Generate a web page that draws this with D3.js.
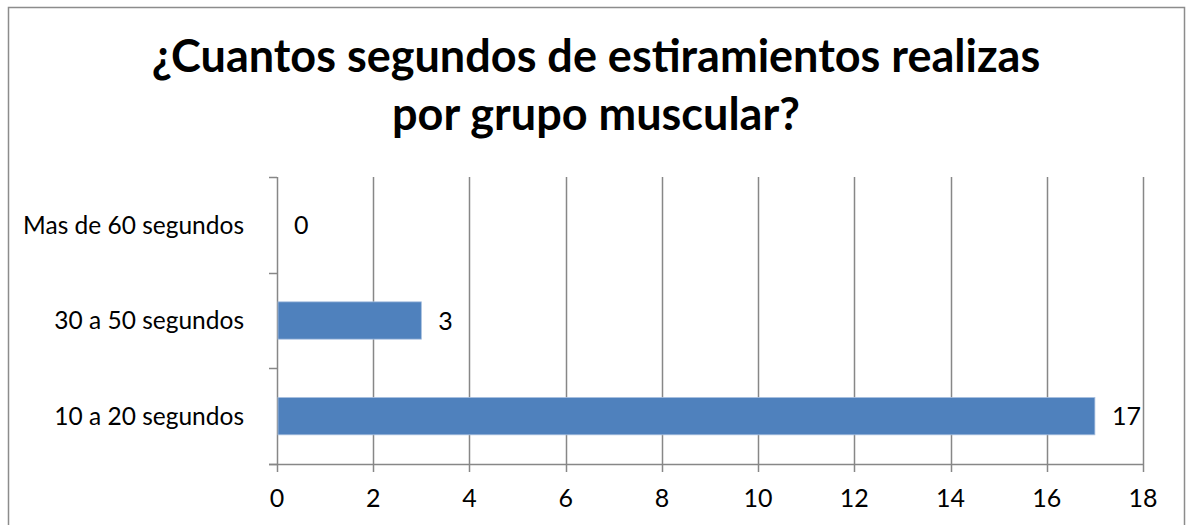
<!DOCTYPE html>
<html lang="en">
<head>
    <meta charset="utf-8">
    <title>estiramientos</title>
    <script type="text/javascript" src="https://cdnjs.cloudflare.com/ajax/libs/d3/7.8.5/d3.min.js"></script>
    <style>
      body { margin: 0; background: #fff; }
      text { font-family: Lato, "Open Sans", sans-serif; fill: #000; }
    </style>
</head>
<body>
    <script type="text/javascript">
    //chart data
    var categories = ["10 a 20 segundos", "30 a 50 segundos", "Mas de 60 segundos"];
    var values = [17, 3, 0];
    var xTicks = [0, 2, 4, 6, 8, 10, 12, 14, 16, 18];
    var titleLines = ["¿Cuantos segundos de estiramientos realizas", "por grupo muscular?"];

    //initialize the dimensions
    var width = 1186,
        height = 525,
        margin = {top: 177, right: 43, bottom: 61, left: 277},
        gridColor = "#878787";

    var svg = d3.select("body")
                .append("svg")
                .attr("width", width)
                .attr("height", height);

    //outer chart border
    svg.append("rect")
       .attr("x", 8.5)
       .attr("y", 7.5)
       .attr("width", 1176)
       .attr("height", 540)
       .attr("fill", "white")
       .attr("stroke", "#8c8c8c")
       .attr("stroke-width", 1.5);

    //title
    svg.append("g")
       .selectAll("text")
       .data(titleLines)
       .enter()
       .append("text")
       .attr("x", 596)
       .attr("y", function(d, i) { return 72 + i * 58; })
       .attr("text-anchor", "middle")
       .attr("font-size", 45)
       .attr("font-weight", "bold")
       .text(function(d) { return d; });

    //scales
    var xScale = d3.scaleLinear()
                   .domain([0, 18])
                   .range([margin.left, width - margin.right]);

    var yScale = d3.scaleBand()
                   .domain(categories)
                   .range([height - margin.bottom, margin.top])
                   .paddingInner(0.61)
                   .paddingOuter(0.305);

    var plotTop = margin.top,
        plotBottom = height - margin.bottom;

    //vertical gridlines
    svg.append("g")
       .selectAll("line")
       .data(xTicks)
       .enter()
       .append("line")
       .attr("x1", function(d) { return Math.round(xScale(d)) + 0.5; })
       .attr("x2", function(d) { return Math.round(xScale(d)) + 0.5; })
       .attr("y1", plotTop)
       .attr("y2", plotBottom + 8)
       .attr("stroke", gridColor)
       .attr("stroke-width", 1.5);

    //bars
    svg.append("g")
       .selectAll("rect")
       .data(values)
       .enter()
       .append("rect")
       .attr("x", xScale(0) + 1)
       .attr("y", function(d, i) { return yScale(categories[i]); })
       .attr("width", function(d) { return Math.max(0, xScale(d) - xScale(0) - 1); })
       .attr("height", yScale.bandwidth())
       .attr("fill", "#4f81bd")
       .attr("stroke", function(d) { return d > 0 ? "#a7bfdf" : "none"; })
       .attr("stroke-width", 0.8);

    //x axis line
    svg.append("line")
       .attr("x1", xScale(0) - 8)
       .attr("x2", xScale(18))
       .attr("y1", plotBottom + 0.5)
       .attr("y2", plotBottom + 0.5)
       .attr("stroke", gridColor)
       .attr("stroke-width", 1.5);

    //category tick marks
    var bandStep = (plotBottom - plotTop) / categories.length;
    svg.append("g")
       .selectAll("line")
       .data(d3.range(categories.length + 1))
       .enter()
       .append("line")
       .attr("x1", xScale(0) - 8)
       .attr("x2", xScale(0))
       .attr("y1", function(d) { return Math.round(plotTop + d * bandStep) + 0.5; })
       .attr("y2", function(d) { return Math.round(plotTop + d * bandStep) + 0.5; })
       .attr("stroke", gridColor)
       .attr("stroke-width", 1.5);

    //x tick labels
    svg.append("g")
       .selectAll("text")
       .data(xTicks)
       .enter()
       .append("text")
       .attr("x", function(d) { return xScale(d); })
       .attr("y", 507)
       .attr("text-anchor", "middle")
       .attr("font-size", 25)
       .text(function(d) { return d; });

    //category labels
    svg.append("g")
       .selectAll("text")
       .data(categories)
       .enter()
       .append("text")
       .attr("x", 244)
       .attr("y", function(d) { return yScale(d) + yScale.bandwidth() / 2; })
       .attr("dy", "0.36em")
       .attr("text-anchor", "end")
       .attr("font-size", 24.5)
       .text(function(d) { return d; });

    //data labels
    svg.append("g")
       .selectAll("text")
       .data(values)
       .enter()
       .append("text")
       .attr("x", function(d) { return xScale(d) + 17; })
       .attr("y", function(d, i) { return yScale(categories[i]) + yScale.bandwidth() / 2; })
       .attr("dy", "0.36em")
       .attr("font-size", 25)
       .text(function(d) { return d; });
    </script>
</body>
</html>
